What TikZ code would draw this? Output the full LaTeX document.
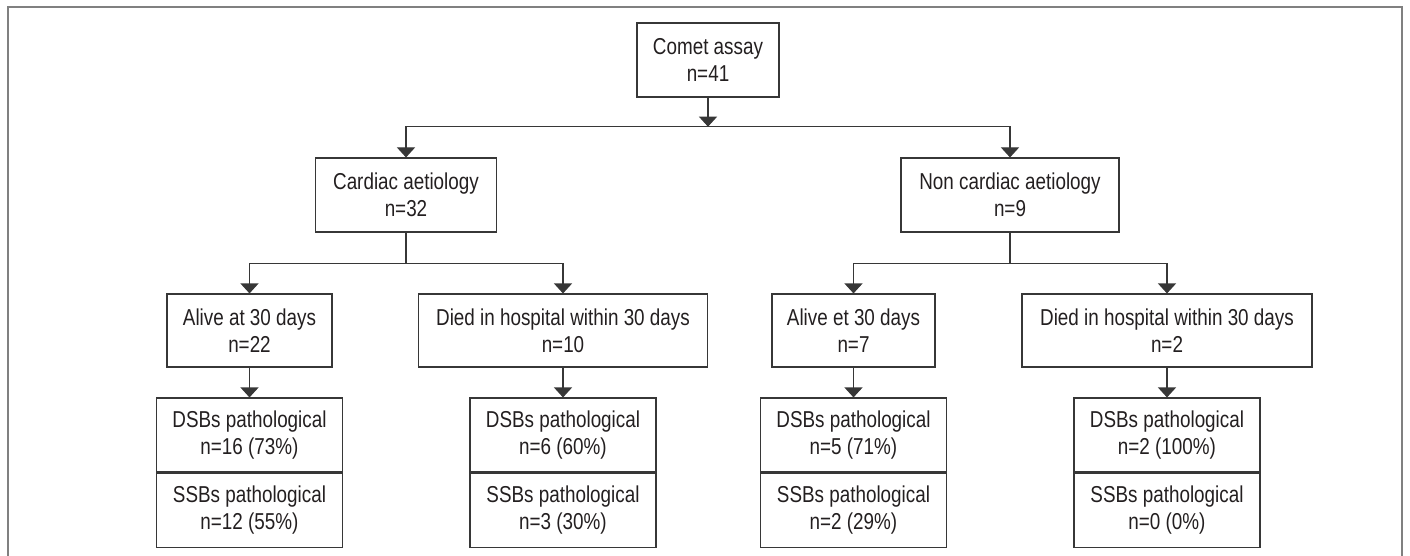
\documentclass[tikz,border=0pt]{standalone}
\usepackage{fontspec}
\setmainfont{Liberation Sans}[FakeStretch=0.82]
\usetikzlibrary{arrows.meta}

\definecolor{textgray}{RGB}{35,31,32}
\definecolor{boxgray}{RGB}{55,55,55}
\definecolor{framegray}{RGB}{128,128,128}

\tikzset{
  box/.style={draw=boxgray, line width=0.55pt, minimum height=37pt, inner sep=0pt,
    align=center, text=textgray, font=\fontsize{11.5}{13.5}\selectfont},
  link/.style={draw=boxgray, line width=0.55pt},
  arr/.style={-{Triangle[width=9pt,length=5pt]}},
}

\begin{document}
\begin{tikzpicture}[x=0.5pt,y=-0.5pt]
    \useasboundingbox (0,0) rectangle (1410,556);
  %Rahmen
    \draw[framegray, line width=0.65pt] (8,560) -- (8,7) -- (1402,7) -- (1402,560);
  %Oberste Ebenen
    \node[box, minimum width=71pt] (comet) at (708,60) {Comet assay\\n=41};
    \node[box, minimum width=90.5pt] (cardiac) at (406,195) {Cardiac aetiology\\n=32};
    \node[box, minimum width=109pt] (noncardiac) at (1010,195) {Non cardiac aetiology\\n=9};
    \coordinate (split) at (708,126.7);
    \draw[link,arr] (comet) -- (split);
    \draw[link,arr] (split) -| (cardiac);
    \draw[link,arr] (split) -| (noncardiac);
  %Verlauf und Befunde
    \foreach \n/\x/\w/\what/\cnt/\dsb/\ssb in {
        1/249.5/82.5/Alive at 30 days/22/16 (73\%)/12 (55\%),
        2/563/144.5/Died in hospital within 30 days/10/6 (60\%)/3 (30\%),
        3/853.5/81.5/Alive et 30 days/7/5 (71\%)/2 (29\%),
        4/1167/145/Died in hospital within 30 days/2/2 (100\%)/0 (0\%)}
    {
      \node[box, minimum width=\w pt, minimum height=36.5pt] (out\n) at (\x,330.5) {\what\\n=\cnt};
      \node[box, minimum width=93pt] (dsb\n) at (\x,435) {DSBs pathological\\n=\dsb};
      \node[box, minimum width=93pt, anchor=north] (ssb\n) at (dsb\n.south) {SSBs pathological\\n=\ssb};
      \draw[link,arr] (out\n) -- (dsb\n);
    }
    \draw[link] (cardiac.south) -- ++(0,31) coordinate (cjoin);
    \draw[link,arr] (cjoin) -| (out1);
    \draw[link,arr] (cjoin) -| (out2);
    \draw[link] (noncardiac.south) -- ++(0,31) coordinate (njoin);
    \draw[link,arr] (njoin) -| (out3);
    \draw[link,arr] (njoin) -| (out4);
\end{tikzpicture}
\end{document}
